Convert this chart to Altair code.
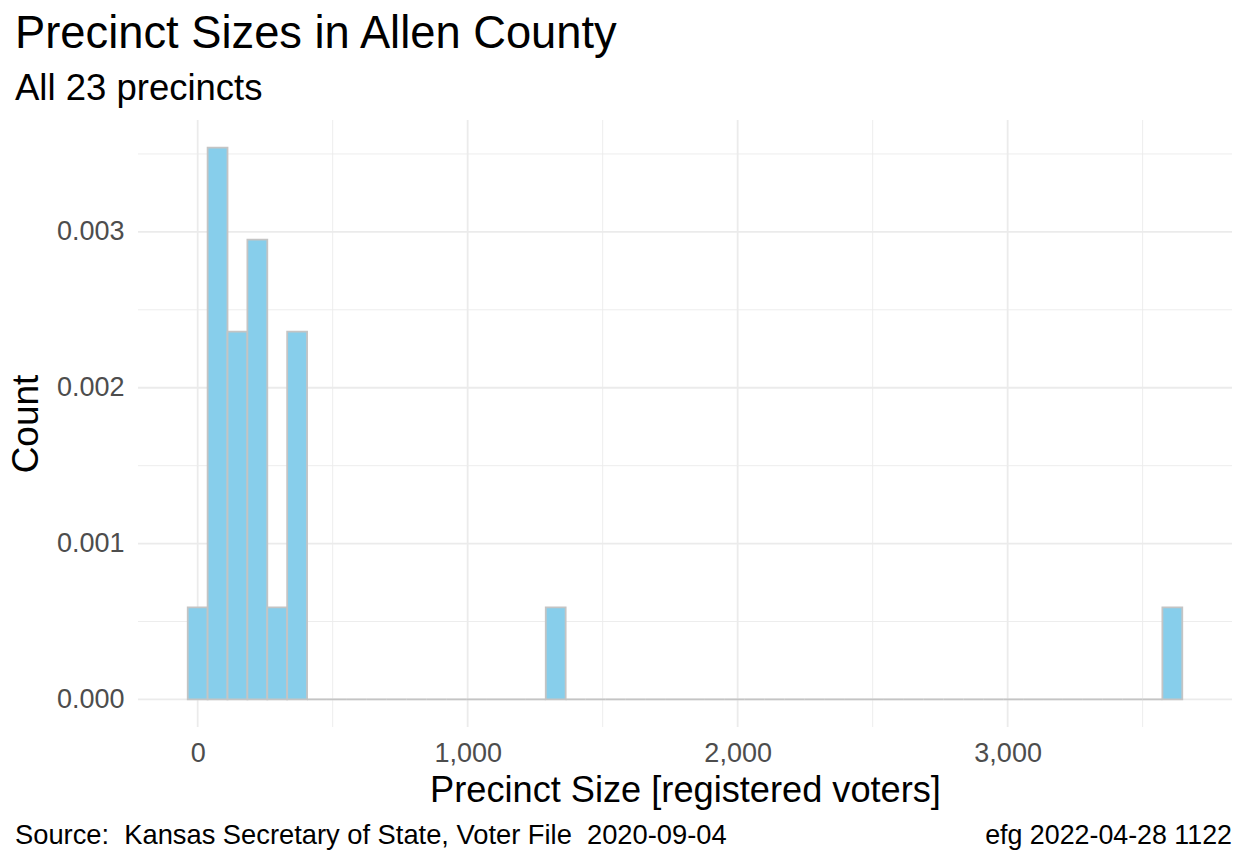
import altair as alt
import pandas as pd

# ---- text ----
title_text = "Precinct Sizes in Allen County"
subtitle_text = "All 23 precincts"
x_title = "Precinct Size [registered voters]"
y_title = "Count"
caption_left = "Source:  Kansas Secretary of State, Voter File  2020-09-04"
caption_right = "efg 2022-04-28 1122"

# ---- data ----
n_precincts = 23
n_bins = 50
size_min_max = [0, 3610]          # centres of the first and last bin
bin_index = [0, 1, 2, 3, 4, 5, 18, 49]
bin_count = [1, 6, 4, 5, 1, 4, 1, 1]

x_major = [0, 1000, 2000, 3000]
x_minor = [500, 1500, 2500, 3500]
y_major = [0.000, 0.001, 0.002, 0.003]
y_minor = [0.0005, 0.0015, 0.0025, 0.0035]

# ---- build histogram table ----
bw = (size_min_max[1] - size_min_max[0]) / (n_bins - 1)
counts = dict(zip(bin_index, bin_count))
rows = []
for i in range(n_bins):
    c = size_min_max[0] + i * bw
    k = counts.get(i, 0)
    rows.append({"left": c - bw / 2, "right": c + bw / 2,
                 "density": k / (n_precincts * bw), "base": 0.0})
hist = pd.DataFrame(rows)

xlo, xhi = hist["left"].min(), hist["right"].max()
xpad = 0.05 * (xhi - xlo)
ymax = hist["density"].max()
x_dom = [xlo - xpad, xhi + xpad]
y_dom = [-0.05 * ymax, 1.05 * ymax]

FONT = "Liberation Sans"
W, H = 1094, 607
GRID = "#EBEBEB"
TICK = 27

xs = alt.Scale(domain=x_dom, nice=False, zero=False)
ys = alt.Scale(domain=y_dom, nice=False, zero=False)

x_axis = alt.Axis(title=x_title, values=x_major, format=",.0f", grid=False, ticks=False,
                  domain=False, labelFontSize=TICK, labelColor="#4D4D4D", labelFont=FONT,
                  labelPadding=13, titleFont=FONT, titleFontSize=36.2, titleColor="#000000",
                  titleFontWeight="normal", titlePadding=6)
y_axis = alt.Axis(title=y_title, values=y_major, format=".3f", grid=False, ticks=False,
                  domain=False, labelFontSize=TICK, labelColor="#4D4D4D", labelFont=FONT,
                  labelPadding=14, titleFont=FONT, titleFontSize=37, titleColor="#000000",
                  titleFontWeight="normal", titlePadding=11)

vmin = alt.Chart(pd.DataFrame({"v": x_minor})).mark_rule(color=GRID, strokeWidth=0.9).encode(
    x=alt.X("v:Q", scale=xs, axis=x_axis))
vmaj = alt.Chart(pd.DataFrame({"v": x_major})).mark_rule(color=GRID, strokeWidth=1.8).encode(
    x=alt.X("v:Q", scale=xs, axis=x_axis))
hmin = alt.Chart(pd.DataFrame({"v": y_minor})).mark_rule(color=GRID, strokeWidth=0.9).encode(
    y=alt.Y("v:Q", scale=ys, axis=y_axis))
hmaj = alt.Chart(pd.DataFrame({"v": y_major})).mark_rule(color=GRID, strokeWidth=1.8).encode(
    y=alt.Y("v:Q", scale=ys, axis=y_axis))

bars = alt.Chart(hist).mark_rect(fill="#87CEEB", stroke="#C4C4C4", strokeWidth=1.8).encode(
    x=alt.X("left:Q", scale=xs, axis=x_axis),
    x2="right:Q",
    y=alt.Y("base:Q", scale=ys, axis=y_axis),
    y2="density:Q",
)

def txt(s, x, y, size, align="left"):
    shown = s.replace("  ", " \u00a0")  # keep double spaces visible in SVG
    return alt.Chart(pd.DataFrame({"t": [shown]})).mark_text(
        font=FONT, fontSize=size, color="#000000", align=align, baseline="alphabetic"
    ).encode(text="t:N", x=alt.value(x), y=alt.value(y))

t1 = txt(title_text, -123, -72, 45.3)
t2 = txt(subtitle_text, -123, -20, 36.5)
c1 = txt(caption_left, -123, 724, 27.3)
c2 = txt(caption_right, W, 724, 26.8, align="right")

chart = alt.layer(vmin, vmaj, hmin, hmaj, bars, t1, t2, c1, c2).properties(
    width=W, height=H,
    autosize=alt.AutoSizeParams(type="none"),
    padding={"left": 138, "top": 120, "right": 16, "bottom": 137},
    background="#FFFFFF",
).configure_view(stroke=None)

chart.save("out.html", embed_options={"renderer": "svg", "actions": False})
